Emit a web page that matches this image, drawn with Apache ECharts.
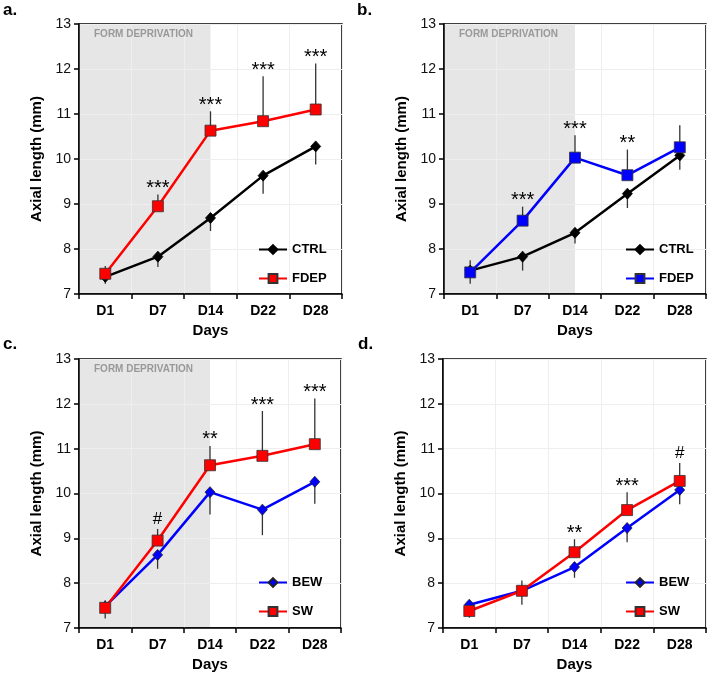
<!DOCTYPE html>
<html><head><meta charset="utf-8">
<script src="https://cdn.jsdelivr.net/npm/echarts@6/dist/echarts.min.js"></script>
<style>html,body{margin:0;padding:0;background:#fff}#c{width:708px;height:675px}</style>
</head><body><div id="c"></div>
<script>
// ---------- data ----------
const days = ['D1', 'D7', 'D14', 'D22', 'D28'];
const yMin = 7, yMax = 13, yStep = 1;

const ctrlA    = [7.38, 7.83, 8.69, 9.63, 10.28];
const ctrlAErr = [0.15, 0.23, 0.29, 0.40, 0.40];
const fdepA    = [7.45, 8.95, 10.63, 10.84, 11.10];
const fdepAErr = [0.17, 0.26, 0.43, 1.00, 1.02];
const ctrlB    = [7.52, 7.83, 8.36, 9.23, 10.08];
const ctrlBErr = [0.29, 0.31, 0.24, 0.32, 0.32];
const fdepB    = [7.48, 8.63, 10.03, 9.64, 10.26];
const fdepBErr = [0.27, 0.31, 0.50, 0.57, 0.49];

const sigA = ['', '***', '***', '***', '***'];
const sigB = ['', '***', '***', '**', ''];
const sigC = ['', '#', '**', '***', '***'];
const sigD = ['', '', '**', '***', '#'];

const shadeLabel = 'FORM DEPRIVATION';
const shadeEnd = 'D14';

// ---------- styles / layout ----------
const FONT = 'Liberation Sans, Arial, sans-serif';
const RED = '#ff0000', BLUE = '#0000ff', BLACK = '#000000';
const sty = {
  CTRL: { color: BLACK, symbol: 'diamond', size: [10, 11], border: BLACK },
  FDEPr: { color: RED, symbol: 'rect', size: 11, border: '#333' },
  FDEPb: { color: BLUE, symbol: 'rect', size: 11, border: '#333' },
  BEW: { color: BLUE, symbol: 'diamond', size: [10, 11], border: '#222' },
  SW: { color: RED, symbol: 'rect', size: 11, border: '#333' }
};

const panels = [
  { tag: 'a.', tagPos: [3, 2], grid: { left: 79, top: 24, width: 263, height: 270 }, shade: true,
    lower: { name: 'CTRL', data: ctrlA, err: ctrlAErr, s: sty.CTRL },
    upper: { name: 'FDEP', data: fdepA, err: fdepAErr, s: sty.FDEPr },
    sig: sigA, legend: { left: 258, top: 243 } },
  { tag: 'b.', tagPos: [357, 2], grid: { left: 444, top: 24, width: 262, height: 270 }, shade: true,
    lower: { name: 'CTRL', data: ctrlB, err: ctrlBErr, s: sty.CTRL },
    upper: { name: 'FDEP', data: fdepB, err: fdepBErr, s: sty.FDEPb },
    sig: sigB, legend: { left: 625, top: 243 } },
  { tag: 'c.', tagPos: [3, 336], grid: { left: 79, top: 359, width: 262, height: 269 }, shade: true,
    lower: { name: 'BEW', data: fdepB, err: fdepBErr, s: sty.BEW },
    upper: { name: 'SW', data: fdepA, err: fdepAErr, s: sty.SW },
    sig: sigC, legend: { left: 258, top: 576 } },
  { tag: 'd.', tagPos: [358, 336], grid: { left: 443, top: 359, width: 263, height: 269 }, shade: false,
    lower: { name: 'BEW', data: ctrlB, err: ctrlBErr, s: sty.BEW },
    upper: { name: 'SW', data: ctrlA, err: ctrlAErr, s: sty.SW },
    sig: sigD, legend: { left: 625, top: 576 } }
];

const grids = [], xAxes = [], yAxes = [], series = [], legends = [], graphics = [];

panels.forEach((p, k) => {
  grids.push(Object.assign({ show: true, borderColor: '#000', borderWidth: 1.5, z: 1 }, p.grid));
  xAxes.push({
    type: 'category', gridIndex: k, data: days, boundaryGap: true, z: 1,
    axisLine: { lineStyle: { color: '#000', width: 1.5 } },
    axisTick: { show: true, length: 5, lineStyle: { color: '#000', width: 1.5 } },
    axisLabel: { color: '#000', fontFamily: FONT, fontWeight: 'bold', fontSize: 14, margin: 10 },
    splitLine: { show: true, lineStyle: { color: '#eeeeee', width: 1 } },
    name: 'Days', nameLocation: 'middle', nameGap: 29,
    nameTextStyle: { color: '#000', fontFamily: FONT, fontWeight: 'bold', fontSize: 15 }
  });
  yAxes.push({
    type: 'value', gridIndex: k, min: yMin, max: yMax, interval: yStep, z: 1,
    axisLine: { show: true, lineStyle: { color: '#000', width: 1.5 } },
    axisTick: { show: true, length: 5, lineStyle: { color: '#000', width: 1.5 } },
    axisLabel: { color: '#111', fontFamily: FONT, fontSize: 14, margin: 8 },
    splitLine: { show: true, lineStyle: { color: '#eeeeee', width: 1 } },
    name: 'Axial length (mm)', nameLocation: 'middle', nameGap: 35, nameRotate: 90,
    nameTextStyle: { color: '#000', fontFamily: FONT, fontWeight: 'bold', fontSize: 15 }
  });

  if (p.shade) {
    const shadeGeom = (api) => {
      const endIdx = days.indexOf(shadeEnd);
      const p0 = api.coord([0, yMax]);
      const p1 = api.coord([endIdx, yMin]);
      const band = api.size([1, 0])[0];
      return { x0: p0[0] - band / 2, y0: p0[1], x1: p1[0], y1: p1[1] };
    };
    series.push({
      type: 'custom', xAxisIndex: k, yAxisIndex: k, z: 0, silent: true,
      data: [[0, yMin]],
      renderItem: (params, api) => {
        const g = shadeGeom(api);
        return { type: 'rect', shape: { x: g.x0, y: g.y0, width: g.x1 - g.x0, height: g.y1 - g.y0 },
                 style: { fill: '#e6e6e6' } };
      }
    });
    series.push({
      type: 'custom', xAxisIndex: k, yAxisIndex: k, z: 2, silent: true,
      data: [[0, yMin]],
      renderItem: (params, api) => {
        const g = shadeGeom(api);
        return { type: 'text', x: g.x0 + 15, y: g.y0 + 10,
                 style: { text: shadeLabel, fill: '#999999', font: 'bold 10px ' + FONT,
                          verticalAlign: 'middle', align: 'left' } };
      }
    });
  }

  // error bars
  [[p.lower, -1], [p.upper, 1]].forEach(([s, dir]) => {
    series.push({
      type: 'custom', xAxisIndex: k, yAxisIndex: k, z: 2, silent: true,
      data: days.map((d, i) => [i, s.data[i], s.err[i]]),
      renderItem: (params, api) => {
        const a = api.coord([api.value(0), api.value(1)]);
        const b = api.coord([api.value(0), api.value(1) + dir * api.value(2)]);
        return { type: 'line', shape: { x1: a[0], y1: a[1], x2: b[0], y2: b[1] },
                 style: { stroke: '#333', lineWidth: 1.3 } };
      }
    });
  });

  // lines
  [p.lower, p.upper].forEach((s, j) => {
    series.push({
      type: 'line', name: s.name + '|' + k, xAxisIndex: k, yAxisIndex: k, z: 3 + j,
      data: s.data, symbol: s.s.symbol, symbolSize: s.s.size, showAllSymbol: true,
      lineStyle: { color: s.s.color, width: 2.5 },
      itemStyle: { color: s.s.color, borderColor: s.s.border, borderWidth: 0.8 },
      animation: false
    });
  });

  // significance marks
  const up = p.upper;
  series.push({
    type: 'custom', xAxisIndex: k, yAxisIndex: k, z: 6, silent: true,
    data: days.map((d, i) => [i, up.data[i] + up.err[i]]).filter((v, i) => p.sig[i] !== ''),
    renderItem: (params, api) => {
      const idx = api.value(0);
      const txt = p.sig[idx];
      const pt = api.coord([idx, api.value(1)]);
      const isHash = txt.indexOf('#') >= 0;
      return { type: 'text', x: pt[0], y: pt[1] - (isHash ? 10 : 6),
               style: { text: txt, fill: '#000', font: (isHash ? '17px ' : '20px ') + FONT,
                        align: 'center', verticalAlign: 'middle' } };
    }
  });

  legends.push({
    left: p.legend.left, top: p.legend.top, orient: 'vertical', itemGap: 16, padding: 0,
    itemWidth: 28, itemHeight: 11, selectedMode: false,
    data: [p.lower.name + '|' + k, p.upper.name + '|' + k],
    formatter: n => n.split('|')[0],
    textStyle: { color: '#000', fontFamily: FONT, fontWeight: 'bold', fontSize: 13 }
  });

  graphics.push({ type: 'text', left: p.tagPos[0], top: p.tagPos[1],
    style: { text: p.tag, font: 'bold 17px ' + FONT, fill: '#000' } });
});

const chart = echarts.init(document.getElementById('c'), null, { renderer: 'canvas' });
chart.setOption({
  animation: false,
  backgroundColor: '#fff',
  grid: grids, xAxis: xAxes, yAxis: yAxes, series: series, legend: legends, graphic: graphics
});
</script></body></html>
